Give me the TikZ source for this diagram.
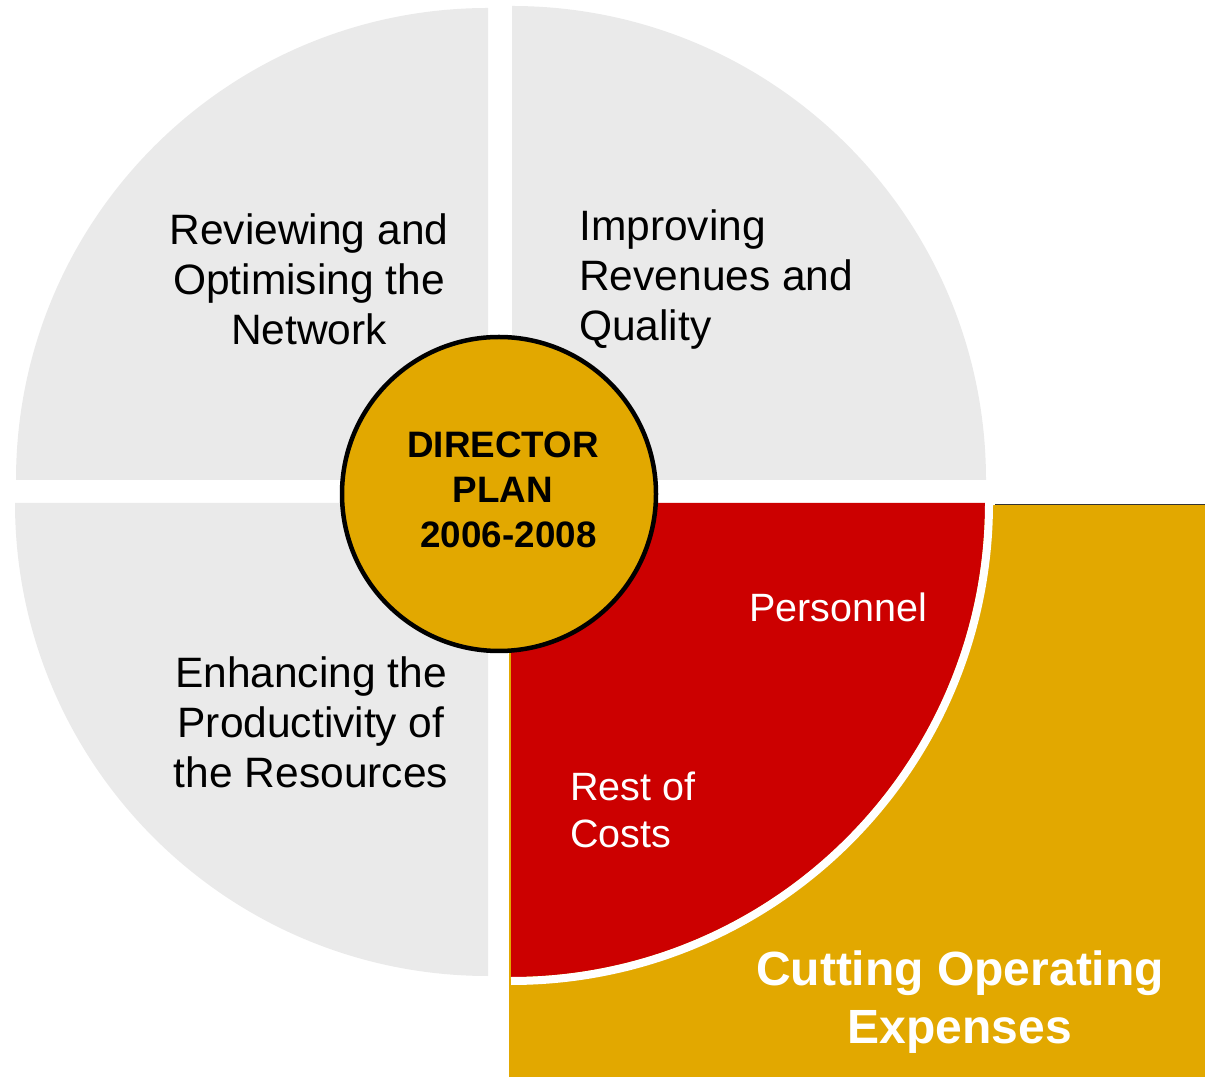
\documentclass[tikz,border=0pt]{standalone}
\usepackage{fontspec}
\setmainfont{Liberation Sans}
\definecolor{quadgray}{RGB}{234,234,234}
\definecolor{gold}{RGB}{226,168,0}
\definecolor{planred}{RGB}{204,0,0}
\begin{document}
\begin{tikzpicture}[x=1pt,y=1pt,
  quadtext/.style={inner sep=0pt, text=black, font=\fontsize{42.5}{50}\selectfont},
  whitetext/.style={inner sep=0pt, text=white, font=\fontsize{39.5}{47}\selectfont},
  centertext/.style={inner sep=0pt, text=black, font=\fontsize{36.8}{45}\selectfont\bfseries, align=center},
  bigtext/.style={inner sep=0pt, text=white, font=\fontsize{48}{58}\selectfont\bfseries, align=center}]
\useasboundingbox (0,0) rectangle (1205,1077);
% quadrants
\fill[quadgray] (488,597) -- ++(0,472) arc (90:180:472) -- cycle;
\fill[quadgray] (512,597) -- ++(474,0) arc (0:90:474) -- cycle;
\fill[quadgray] (488,574) -- ++(-473,0) arc (180:270:473) -- cycle;
% gold rectangle
\fill[gold] (509,0) rectangle (1205,572);
\draw[black!80, line width=1.5pt] (995,572.5) -- (1205,572.5);
% red quadrant with white rim
\fill[planred] (511,574) -- ++(474,0) arc (0:-90:474) -- cycle;
\draw[white, line width=8pt] (989,574) arc (0:-90:478);
% centre circle
\node[circle, draw=black, line width=4.5pt, fill=gold, minimum size=314pt, inner sep=0pt] (hub) at (499,583) {};
% texts
\node[quadtext, align=center] (tl) at (309,798) {Reviewing and\\Optimising the\\Network};
\node[quadtext, align=left, anchor=west] (tr) at (579,797) {Improving\\Revenues and\\Quality};
\node[quadtext, align=center] (bl) at (311,355) {Enhancing the\\Productivity of\\the Resources};
\node[centertext] (plan) at (503,587) {DIRECTOR\\PLAN\\\hspace{0.3em}2006-2008};
\node[whitetext] (pers) at (838,470) {Personnel};
\node[whitetext, align=left, anchor=west] (rest) at (570,267) {Rest of\\Costs};
\node[bigtext] (cut) at (960,75) {Cutting Operating\\Expenses};
\end{tikzpicture}
\end{document}
